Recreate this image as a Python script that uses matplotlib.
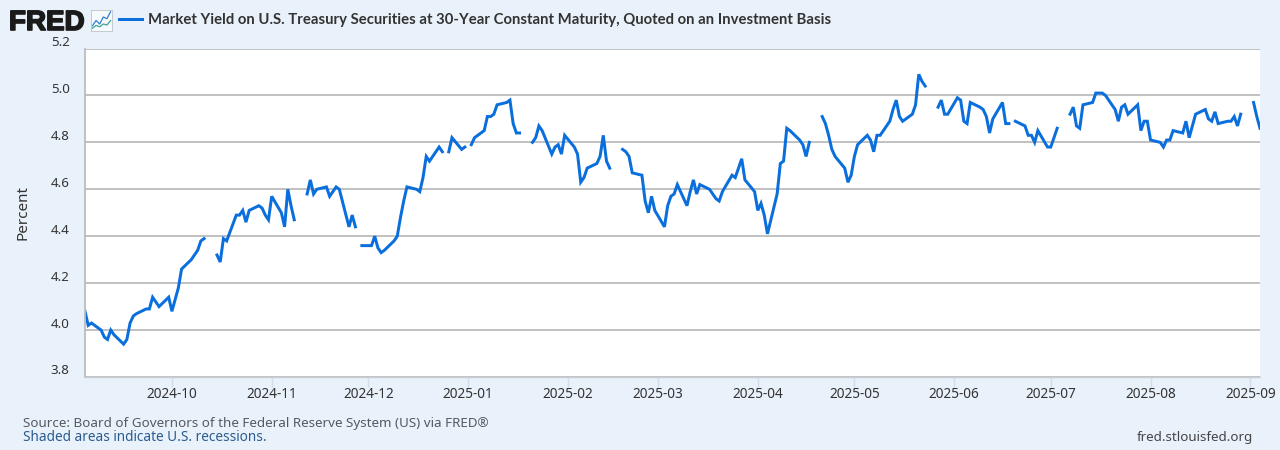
import matplotlib
matplotlib.use('Agg')
import matplotlib.pyplot as plt
import matplotlib.dates as mdates
import matplotlib.patheffects as pe
from matplotlib.transforms import ScaledTranslation
import numpy as np
import pandas as pd

nan = np.nan

# Rendite je Monat, ein Wert pro Werktag (nan = Feiertag)
sep24 = [4.08, 4.02, 4.03, 4.00, 3.97, 3.96, 4.00, 3.98, 3.94, 3.96, 4.03, 4.06, 4.07,
         4.09, 4.09, 4.14, 4.12, 4.10, 4.14]
oct24 = [4.08, 4.13, 4.18, 4.26, 4.30, 4.32, 4.34, 4.38, 4.39, nan, 4.32, 4.29, 4.39,
         4.38, 4.49, 4.49, 4.51, 4.46, 4.51, 4.53, 4.52, 4.49, 4.47]
nov24 = [4.57, 4.50, 4.44, 4.60, 4.53, 4.47, nan, 4.58, 4.64, 4.58, 4.60, 4.61, 4.57,
         4.59, 4.61, 4.60, 4.44, 4.49, 4.44, nan, 4.36]
dec24 = [4.36, 4.40, 4.35, 4.33, 4.34, 4.38, 4.40, 4.48, 4.55, 4.61, 4.60, 4.59, 4.65,
         4.74, 4.72, 4.78, 4.76, nan, 4.76, 4.82, 4.77, 4.78]
jan25 = [nan, 4.79, 4.82, 4.85, 4.91, 4.91, 4.92, 4.96, 4.97, 4.98, 4.88, 4.84, 4.84,
         nan, 4.80, 4.82, 4.87, 4.85, 4.75, 4.78, 4.79, 4.75, 4.83]
feb25 = [4.78, 4.75, 4.63, 4.65, 4.69, 4.71, 4.74, 4.83, 4.72, 4.69, nan, 4.77, 4.76,
         4.74, 4.67, 4.66, 4.55, 4.50, 4.57, 4.51]
mar25 = [4.44, 4.53, 4.57, 4.58, 4.62, 4.53, 4.59, 4.64, 4.58, 4.62, 4.60, 4.58, 4.56,
         4.55, 4.59, 4.66, 4.65, 4.69, 4.73, 4.64, 4.59]
apr25 = [4.51, 4.54, 4.49, 4.41, 4.58, 4.71, 4.72, 4.86, 4.85, 4.81, 4.79, 4.74, 4.80,
         nan, 4.91, 4.88, 4.83, 4.77, 4.74, 4.69, 4.63, 4.66]
may25 = [4.74, 4.79, 4.83, 4.81, 4.76, 4.83, 4.83, 4.89, 4.94, 4.98, 4.91, 4.89, 4.92,
         4.96, 5.09, 5.06, 5.04, nan, 4.95, 4.98, 4.92, 4.92]
jun25 = [4.99, 4.98, 4.89, 4.88, 4.97, 4.95, 4.94, 4.91, 4.84, 4.90, 4.97, 4.88, 4.88,
         nan, 4.89, 4.87, 4.83, 4.83, 4.80, 4.85, 4.78]
jul25 = [4.78, 4.82, 4.86, nan, 4.92, 4.95, 4.87, 4.86, 4.96, 4.97, 5.01, 5.01, 5.01,
         5.00, 4.94, 4.89, 4.95, 4.96, 4.92, 4.96, 4.85, 4.89, 4.89]
aug25 = [4.81, 4.80, 4.78, 4.81, 4.81, 4.85, 4.84, 4.89, 4.82, 4.87, 4.92, 4.94, 4.90,
         4.89, 4.93, 4.88, 4.89, 4.89, 4.91, 4.87, 4.92]
sep25 = [nan, 4.97, 4.91, 4.86]

yield_values = sep24 + oct24 + nov24 + dec24 + jan25 + feb25 + mar25 + apr25 + may25 + jun25 + jul25 + aug25 + sep25
dates = pd.bdate_range('2024-09-04', '2025-09-04')

y_ticks = [3.8, 4.0, 4.2, 4.4, 4.6, 4.8, 5.0, 5.2]
month_ticks = pd.date_range('2024-10-01', '2025-09-01', freq='MS')

series_name = 'Market Yield on U.S. Treasury Securities at 30-Year Constant Maturity, Quoted on an Investment Basis'

# Farben
bg = '#e9f1fa'
grid = '#bcbcbc'
blue = '#0a6fdc'
text = '#333333'

W, H = 1280, 450
plt.rcParams['font.family'] = ['Noto Sans', 'DejaVu Sans']

fig = plt.figure(figsize=(W / 100, H / 100), dpi=100, facecolor=bg)
ax = fig.add_axes([85 / W, (H - 377) / H, 1175 / W, 328.5 / H])

line, = ax.plot(dates, yield_values, color=blue, lw=2.15, label=series_name, solid_joinstyle='miter')

ax.set_xlim(pd.Timestamp('2024-09-04'), pd.Timestamp('2025-09-04'))
ax.set_ylim(3.8, 5.2)
ax.set_yticks(y_ticks)
ax.set_xticks(month_ticks)
ax.xaxis.set_major_formatter(mdates.DateFormatter('%Y-%m'))

ax.grid(True, axis='y', color=grid, lw=1.3)
ax.set_axisbelow(True)
for s in ['top', 'right']:
    ax.spines[s].set_visible(False)
ax.spines['left'].set_color(grid)
ax.spines['left'].set_linewidth(1.3)
ax.spines['bottom'].set_color('#c9ced4')
ax.spines['bottom'].set_linewidth(1.0)

ax.tick_params(axis='y', length=0, pad=11, labelsize=9.6, labelcolor=text)
ax.tick_params(axis='x', length=7, width=1, color='#d3dde8', pad=0.5, labelsize=9.8, labelcolor=text)
# y-Beschriftung sitzt etwas ueber der Gitterlinie
shift = ScaledTranslation(0, 6 / 100, fig.dpi_scale_trans)
for lab in ax.get_yticklabels():
    lab.set_verticalalignment('center')
    lab.set_transform(lab.get_transform() + shift)

ax.set_ylabel('Percent', fontsize=11, color=text)
ax.yaxis.set_label_coords((31 - 85) / 1175, 0.5)

# Kopfzeile mit Logo und Legende
fig.text(9 / W, 1 - 30 / H, 'FRED', fontsize=20, fontweight='bold', family='Liberation Sans', color='#1a1a1a',
         path_effects=[pe.withStroke(linewidth=1.2, foreground='#1a1a1a')])
fig.legend(handles=[line], loc='center left', bbox_to_anchor=(119 / W, 1 - 20 / H), frameon=False,
           handlelength=1.55, handletextpad=0.42, borderpad=0, borderaxespad=0,
           prop={'size': 10.75, 'weight': 'bold', 'family': 'Lato'}, labelcolor='#333333')

# kleines Symbol neben dem Logo
icon = fig.add_axes([91 / W, 1 - 31 / H, 21 / W, 21 / H], facecolor='#f7fafc')
icon.plot([0, 1, 2, 3, 4, 5], [1.5, 3, 2, 4, 3.5, 5.5], color='#2f7fd0', lw=0.9)
icon.plot([0, 1, 2, 3, 4, 5], [0.8, 1.6, 1.2, 2, 1.7, 3], color='#3aa58f', lw=0.9)
icon.set_xlim(-0.4, 5.4)
icon.set_ylim(0, 6)
icon.set_xticks([])
icon.set_yticks([])
for s in icon.spines.values():
    s.set_color('#c4c9ce')
    s.set_linewidth(0.7)

# Fusszeile
fig.text(23 / W, 1 - 427 / H, 'Source: Board of Governors of the Federal Reserve System (US) via FRED\u00ae',
         fontsize=9.7, color='#555a60')
fig.text(23 / W, 1 - 441 / H, 'Shaded areas indicate U.S. recessions.', fontsize=9.8, color='#2b5c8f')
fig.text(1253 / W, 1 - 441 / H, 'fred.stlouisfed.org', fontsize=9.6, color='#444444', ha='right')

plt.savefig('out.png', dpi=100, facecolor=bg)
